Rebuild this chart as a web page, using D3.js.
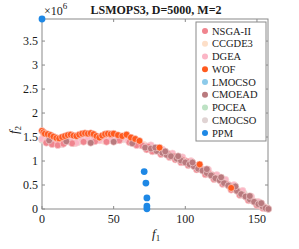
<!DOCTYPE html>
<html>
<head>
<meta charset="utf-8">
<script src="https://cdn.jsdelivr.net/npm/d3@7"></script>
<style>
  body { margin: 0; background: #fff; }
  svg text { font-family: "Liberation Serif", "Times New Roman", serif; fill: #1a1a1a; }
</style>
</head>
<body>
<div id="canvas"></div>
<script>
// DATA (f1, f2 in units of 1e6)
const seriesNames = ["NSGA-II", "CCGDE3", "DGEA", "WOF", "LMOCSO", "CMOEAD", "POCEA", "CMOCSO", "PPM"];
const seriesColors = ["#f0848e", "#fddfc8", "#fbb6c6", "#ff5a1e", "#8ccaea", "#b97a7e", "#bde2c4", "#e0d3d3", "#1e88e5"];
const xTicks = [0, 50, 100, 150];
const yTicks = [0, 0.5, 1, 1.5, 2, 2.5, 3, 3.5];

const nsga2 = [[3,1.38],[7,1.35],[11,1.33],[15,1.36],[21,1.37],[29,1.40],[37,1.41],[45,1.40],[54,1.43],[61,1.39],[66,1.33],
  [70,1.32],[74,1.30],[78,1.25],[81,1.22],[85,1.18],[88,1.15],[92,1.10],[95,1.06],[98,1.03],[101,0.99],[104,0.95],[107,0.90],[110,0.86],[113,0.81],[116,0.76],[119,0.70],[122,0.65],[125,0.59],[128,0.54],[131,0.48],[134,0.42],[137,0.36],[140,0.30],[143,0.24],[146,0.18],[149,0.13],[152,0.08],[155,0.04],[157,0.01],
  [73,1.24],[77,1.20],[83,1.14],[89,1.08],[93,1.03],[97,0.97],[102,0.91],[108,0.82],[114,0.72],[120,0.62],[126,0.52],[132,0.40],[138,0.29],[144,0.18],[150,0.08],[154,0.02]];
const ccgde3 = [[1,1.50],[4,1.44],[8,1.41],[13,1.36],[18,1.42],[23,1.37],[27,1.42],[33,1.45],[38,1.47],[43,1.42],[50,1.45],[55,1.49],[59,1.46],[63,1.42],[67,1.38],[71,1.34],[77,1.27],[83,1.20],[89,1.13],[96,1.05],[102,0.98],[108,0.89],[114,0.79],[120,0.69],[126,0.57],[132,0.47],[138,0.35],[144,0.22],[150,0.11],[156,0.03]];
const dgea = [[0,1.46],[3,1.42],[6,1.40],[9,1.37],[12,1.38],[16,1.40],[20,1.41],[24,1.38],[28,1.44],[32,1.46],[36,1.44],[40,1.43],[44,1.46],[48,1.47],[52,1.44],[56,1.48],[60,1.43],[64,1.40],[68,1.35],[73,1.31],[79,1.24],[86,1.16],[93,1.09],[99,1.02],[105,0.93],[111,0.84],[117,0.74],[123,0.63],[129,0.52],[135,0.41],[141,0.28],[147,0.17],[153,0.07],
  [76,1.33],[84,1.24],[91,1.16],[98,1.08],[104,1.00],[110,0.91],[116,0.82],[122,0.71],[128,0.61],[134,0.50],[140,0.38],[146,0.26],[151,0.15]];
const wof = [[0,1.63],[1,1.60],[2,1.57],[4,1.56],[6,1.54],[8,1.51],[10,1.48],[12,1.47],[14,1.50],[16,1.52],[18,1.54],[20,1.55],[22,1.53],[24,1.52],[26,1.55],[28,1.57],[30,1.58],[32,1.57],[34,1.58],[36,1.56],[38,1.52],[40,1.49],[42,1.53],[44,1.56],[46,1.57],[48,1.56],[50,1.57],[53,1.54],[56,1.52],[59,1.55],[62,1.49],[65,1.46],[68,1.42],[82,1.28],[110,0.93],[132,0.44]];
const lmocso = [[155,0.03],[157,0.01]];
const cmoead = [[5,1.43],[17,1.41],[34,1.38],[50,1.40],[63,1.37],
  [72,1.28],[76,1.26],[80,1.21],[84,1.17],[87,1.13],[90,1.10],[94,1.05],[97,1.01],[100,0.97],[103,0.93],[106,0.89],[109,0.84],[112,0.80],[115,0.75],[118,0.70],[121,0.64],[124,0.60],[127,0.54],[130,0.49],[133,0.43],[136,0.38],[139,0.31],[142,0.26],[145,0.20],[148,0.15],[151,0.10],[154,0.05],[156,0.02],[158,0.00],
  [79,1.28],[86,1.20],[95,1.10],[105,0.97],[115,0.83],[125,0.66],[135,0.47],[145,0.27],[153,0.12]];
const pocea = [[0,1.44],[25,1.39],[78,1.24],[91,1.11],[103,0.95],[115,0.78],[127,0.58],[134,0.44],[141,0.32],[146,0.22],[150,0.15],[153,0.10],[157,0.03]];
const cmocso = [[2,1.47],[5,1.40],[10,1.39],[14,1.35],[19,1.40],[22,1.37],[26,1.43],[31,1.43],[35,1.46],[41,1.45],[46,1.43],[53,1.47],[57,1.45],[62,1.44],[66,1.36],[69,1.33],[75,1.28],[82,1.20],[88,1.15],[94,1.07],[100,1.00],[106,0.92],[112,0.82],[118,0.72],[124,0.61],[130,0.51],[136,0.39],[142,0.27],[148,0.16],[154,0.06]];
const ppm = [[0,3.96],[71.3,0.78],[72.5,0.54],[73.2,0.23],[73.2,0.06],[73.2,0.005]];

const seriesData = [nsga2, ccgde3, dgea, wof, lmocso, cmoead, pocea, cmocso, ppm];
// drawing order: the pale/pink ones first, WOF on top of the band, PPM last
const drawOrder = [4, 6, 1, 7, 2, 0, 5, 3, 8];

// DIMENSIONS
const width = 299, height = 249;
const margin = { top: 19, right: 31, bottom: 40, left: 42 };
const plot_width = width - margin.left - margin.right;
const plot_height = height - margin.top - margin.bottom;
const axisColor = "#8a8a8a";

const canvas = d3.select("#canvas").append("svg")
  .attr("width", width).attr("height", height);

const plot = canvas.append("g")
  .attr("transform", `translate(${margin.left}, ${margin.top})`);

// SCALES
const xScale = d3.scaleLinear().domain([0, 157.7]).range([0, plot_width]);
const yScale = d3.scaleLinear().domain([0, 3.96]).range([plot_height, 0]);

// BOX + TICKS (inward, MATLAB style)
plot.append("rect")
  .attr("width", plot_width).attr("height", plot_height)
  .attr("fill", "none").attr("stroke", axisColor).attr("stroke-width", 1);

const tl = 3;
plot.append("g").selectAll("path")
  .data(xTicks).join("path")
  .attr("d", d => `M${xScale(d)},${plot_height}v${-tl}M${xScale(d)},0v${tl}`)
  .attr("stroke", axisColor);
plot.append("g").selectAll("path")
  .data(yTicks).join("path")
  .attr("d", d => `M0,${yScale(d)}h${tl}M${plot_width},${yScale(d)}h${-tl}`)
  .attr("stroke", axisColor);

plot.append("g").selectAll("text")
  .data(xTicks).join("text")
  .attr("x", d => xScale(d)).attr("y", plot_height + 14)
  .attr("text-anchor", "middle").style("font-size", "12px")
  .text(d => d);

plot.append("g").selectAll("text")
  .data(yTicks).join("text")
  .attr("x", -4).attr("y", d => yScale(d) + 4)
  .attr("text-anchor", "end").style("font-size", "12px")
  .text(d => d);

// POINTS
drawOrder.forEach(i => {
  plot.append("g").selectAll("circle")
    .data(seriesData[i]).join("circle")
    .attr("cx", d => xScale(d[0]))
    .attr("cy", d => yScale(d[1]))
    .attr("r", 3.4)
    .attr("fill", seriesColors[i])
    .attr("stroke", i === 8 ? "none" : "#f8d8d8")
    .attr("stroke-width", 0.6);
});

// TITLE
canvas.append("text")
  .attr("x", 156).attr("y", 14)
  .attr("text-anchor", "middle")
  .style("font-size", "12px").style("font-weight", "bold")
  .text("LSMOPS3, D=5000, M=2");

const exp = canvas.append("text").attr("x", 44).attr("y", 15).style("font-size", "12px");
exp.append("tspan").text("×10");
exp.append("tspan").attr("dy", -6).style("font-size", "9px").text("6");

// AXIS LABELS
const xl = canvas.append("text")
  .attr("x", 152).attr("y", 238)
  .style("font-size", "13px").style("font-style", "italic");
xl.append("tspan").text("f");
xl.append("tspan").attr("dy", 3).style("font-size", "9px").style("font-style", "normal").text("1");

const yl = canvas.append("text")
  .attr("transform", "translate(18, 134) rotate(-90)")
  .style("font-size", "13px").style("font-style", "italic");
yl.append("tspan").text("f");
yl.append("tspan").attr("dy", 3).style("font-size", "9px").style("font-style", "normal").text("2");

// LEGEND
const legend = canvas.append("g").attr("transform", "translate(196, 22)");
legend.append("rect")
  .attr("width", 70).attr("height", 119)
  .attr("fill", "#fff").attr("stroke", axisColor);

const rows = legend.selectAll("g.row")
  .data(seriesNames).join("g")
  .attr("transform", (d, i) => `translate(0, ${9 + i * 12.75})`);
rows.append("circle")
  .attr("cx", 9).attr("cy", 0).attr("r", 3)
  .attr("fill", (d, i) => seriesColors[i]);
rows.append("text")
  .attr("x", 16).attr("y", 3.5)
  .style("font-size", "10.5px")
  .text(d => d);
</script>
</body>
</html>
